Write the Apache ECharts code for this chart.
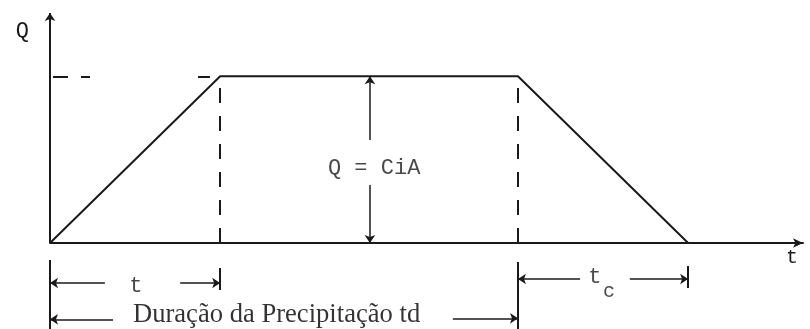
<!DOCTYPE html>
<html lang="pt">
<head>
<meta charset="utf-8" />
<title>Hidrograma - Método Racional</title>
<script src="https://cdn.jsdelivr.net/npm/echarts@6/dist/echarts.min.js"></script>
<style>
  html, body { margin: 0; padding: 0; background: #fff; }
  #chart { width: 810px; height: 329px; }
</style>
</head>
<body>
<div id="chart"></div>
<script type="text/javascript">
// hidrograma trapezoidal (tempo, vazão relativa)
var hydroT = [0, 4, 11, 15];
var hydroQ = [0, 1, 1, 0];

// linhas guia tracejadas: [x1, y1, x2, y2]
var guideDashes = [
  [4, 0, 4, 1],
  [11, 0, 11, 1],
  [0.07, 1, 0.94, 1],
  [3.48, 1, 3.76, 1]
];

// setas de cota: [x1, y1, x2, y2], ponta da seta no segundo ponto
var dimArrows = [
  [7.52, 0.618, 7.52, 1],
  [7.52, 0.348, 7.52, 0],
  [1.29, -0.24, 0, -0.24],
  [3.06, -0.24, 4, -0.24],
  [12.46, -0.216, 11, -0.216],
  [13.63, -0.216, 15, -0.216],
  [1.48, -0.458, 0, -0.458],
  [9.47, -0.452, 11, -0.452]
];

// traços de referência abaixo do eixo
var dimTicks = [
  [0, -0.102, 0, -0.516],
  [4, -0.15, 4, -0.282],
  [11, -0.114, 11, -0.516],
  [15, -0.138, 15, -0.27]
];

var ink = '#1a1a1a';

function seg(s, arrow, lineStyle) {
  return [
    { coord: [s[0], s[1]], symbol: 'none' },
    { coord: [s[2], s[3]], symbol: arrow ? 'arrow' : 'none', lineStyle: lineStyle }
  ];
}

var markData = [];
// eixo Q
markData.push(seg([0, 0, 0, 1.38], true, { color: ink, width: 2, type: 'solid' }));
guideDashes.forEach(function (s) {
  markData.push(seg(s, false, { color: ink, width: 2, type: [15, 13] }));
});
dimArrows.forEach(function (s) {
  markData.push(seg(s, true, { color: ink, width: 1.5, type: 'solid' }));
});
dimTicks.forEach(function (s) {
  markData.push(seg(s, false, { color: ink, width: 2, type: 'solid' }));
});

var mono = 'Liberation Mono';
var labels = [
  { value: [7.62, 0.45], name: 'Q = CiA', label: { fontFamily: mono, fontSize: 22 } },
  { value: [2.02, -0.258], name: 't', label: { fontFamily: mono, fontSize: 22 } },
  { value: [12.81, -0.204], name: 't', label: { fontFamily: mono, fontSize: 22 } },
  { value: [13.14, -0.294], name: 'c', label: { fontFamily: mono, fontSize: 20 } },
  { value: [1.95, -0.432], name: 'Duração da Precipitação td',
    label: { fontFamily: 'Liberation Serif', fontSize: 26.6, align: 'left', color: '#000' } }
];

var chart = echarts.init(document.getElementById('chart'));
var option = {
  animation: false,
  grid: { left: 50, right: 7, top: 13, bottom: 0 },
  xAxis: {
    type: 'value', min: 0, max: 17.7,
    name: 't', nameLocation: 'end', nameGap: 0,
    nameTextStyle: { fontFamily: mono, fontSize: 20, color: ink, align: 'right', verticalAlign: 'top', padding: [5, 5, 0, 0] },
    axisLine: { symbol: ['none', 'arrow'], symbolSize: [7, 10], lineStyle: { color: ink, width: 2 } },
    axisTick: { show: false }, axisLabel: { show: false }, splitLine: { show: false }
  },
  yAxis: {
    type: 'value', min: -0.516, max: 1.38,
    name: 'Q', nameLocation: 'end', nameGap: 0,
    nameTextStyle: { fontFamily: mono, fontSize: 22, color: ink, align: 'right', verticalAlign: 'top', padding: [7, 21, 0, 0] },
    axisLine: { show: false }, axisTick: { show: false }, axisLabel: { show: false }, splitLine: { show: false }
  },
  series: [
    {
      type: 'line',
      data: hydroT.map(function (t, i) { return [t, hydroQ[i]]; }),
      symbol: 'none',
      silent: true,
      lineStyle: { color: ink, width: 2 },
      markLine: {
        silent: true,
        symbolSize: 8,
        label: { show: false },
        lineStyle: { color: ink },
        emphasis: { disabled: true },
        data: markData
      }
    },
    {
      type: 'scatter',
      data: labels,
      symbolSize: 0,
      silent: true,
      label: {
        show: true,
        position: [0, 0],
        align: 'center',
        verticalAlign: 'middle',
        color: ink,
        formatter: function (p) { return p.name; }
      }
    }
  ]
};
chart.setOption(option);
</script>
</body>
</html>
